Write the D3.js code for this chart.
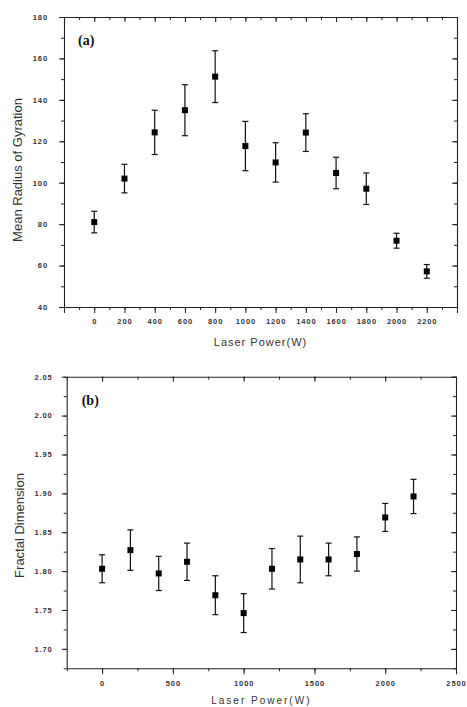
<!DOCTYPE html>
<html>
<head>
<meta charset="utf-8">
<script src="https://cdn.jsdelivr.net/npm/d3@7.9.0/dist/d3.min.js"></script>
<style>
  body { margin: 0; background: #fff; }
  svg { display: block; }
</style>
</head>
<body>
<script>
// ** Data **
const power = [0, 200, 400, 600, 800, 1000, 1200, 1400, 1600, 1800, 2000, 2200];
const radius = [81, 102, 124.3, 135, 151.2, 117.7, 109.8, 124.2, 104.7, 97.1, 72, 57.2];
const radiusErr = [5.2, 6.9, 10.7, 12.3, 12.5, 11.9, 9.5, 9.1, 7.6, 7.6, 3.6, 3.3];
const fractal = [1.803, 1.827, 1.797, 1.812, 1.769, 1.746, 1.803, 1.815, 1.815, 1.822, 1.869, 1.896];
const fractalErr = [0.018, 0.026, 0.022, 0.024, 0.025, 0.025, 0.026, 0.030, 0.021, 0.022, 0.018, 0.022];

// ** Tick labels **
const xTicksA = [0, 200, 400, 600, 800, 1000, 1200, 1400, 1600, 1800, 2000, 2200];
const yTicksA = [40, 60, 80, 100, 120, 140, 160, 180];
const xTicksB = [0, 500, 1000, 1500, 2000, 2500];
const yTicksB = [1.70, 1.75, 1.80, 1.85, 1.90, 1.95, 2.00, 2.05];

const width = 467, height = 707;
const svg = d3.select("body").append("svg")
    .attr("width", width)
    .attr("height", height)
    .style("font-family", "'Liberation Sans', Arial, sans-serif");

function panel(opt) {
    const x = d3.scaleLinear().domain(opt.xDomain).range([opt.left, opt.right]);
    const y = d3.scaleLinear().domain(opt.yDomain).range([opt.bottom, opt.top]);
    const g = svg.append("g");

    const styleAxis = sel => {
        sel.selectAll("path.domain").attr("stroke", "#222").attr("stroke-width", 1.1);
        sel.selectAll(".tick line").attr("stroke", "#222").attr("stroke-width", 1);
        sel.selectAll(".tick text")
            .attr("fill", "#333")
            .style("font-size", "7.5px")
            .style("font-weight", "bold")
            .style("letter-spacing", "0.9px");
    };

    // minor ticks (no labels)
    g.append("g").attr("transform", `translate(0,${opt.bottom})`)
        .call(d3.axisBottom(x).tickValues(opt.xMinor).tickSize(3).tickFormat(""))
        .call(s => s.select(".domain").remove()).call(styleAxis);
    g.append("g").attr("transform", `translate(0,${opt.top})`)
        .call(d3.axisTop(x).tickValues(opt.xMinor).tickSize(-3).tickFormat(""))
        .call(s => s.select(".domain").remove()).call(styleAxis);
    g.append("g").attr("transform", `translate(${opt.left},0)`)
        .call(d3.axisLeft(y).tickValues(opt.yMinor).tickSize(3).tickFormat(""))
        .call(s => s.select(".domain").remove()).call(styleAxis);
    g.append("g").attr("transform", `translate(${opt.right},0)`)
        .call(d3.axisRight(y).tickValues(opt.yMinor).tickSize(-3).tickFormat(""))
        .call(s => s.select(".domain").remove()).call(styleAxis);

    // major ticks, labels only for the listed values
    const xLabel = d => opt.xLabels.includes(d) ? String(d) : "";
    g.append("g").attr("transform", `translate(0,${opt.bottom})`)
        .call(d3.axisBottom(x).tickValues(opt.xMajor).tickSize(6).tickSizeOuter(0).tickPadding(6)
            .tickFormat(xLabel))
        .call(styleAxis);
    g.append("g").attr("transform", `translate(0,${opt.top})`)
        .call(d3.axisTop(x).tickValues(opt.xMajor).tickSize(-5).tickSizeOuter(0).tickFormat(""))
        .call(styleAxis);
    g.append("g").attr("transform", `translate(${opt.left},0)`)
        .call(d3.axisLeft(y).tickValues(opt.yTicks).tickSize(5).tickSizeOuter(0).tickPadding(opt.yPad)
            .tickFormat(opt.yFormat))
        .call(styleAxis);
    g.append("g").attr("transform", `translate(${opt.right},0)`)
        .call(d3.axisRight(y).tickValues(opt.yTicks).tickSize(-5).tickSizeOuter(0).tickFormat(""))
        .call(styleAxis);

    // error bars
    const pts = opt.values.map((v, i) => ({ x: power[i], y: v, e: opt.errors[i] }));
    const eb = g.append("g").attr("stroke", "#111").attr("stroke-width", 1.2);
    eb.selectAll("line.v").data(pts).enter().append("line")
        .attr("x1", d => x(d.x)).attr("x2", d => x(d.x))
        .attr("y1", d => y(d.y + d.e)).attr("y2", d => y(d.y - d.e));
    eb.selectAll("line.t").data(pts).enter().append("line")
        .attr("x1", d => x(d.x) - 3).attr("x2", d => x(d.x) + 3)
        .attr("y1", d => y(d.y + d.e)).attr("y2", d => y(d.y + d.e));
    eb.selectAll("line.b").data(pts).enter().append("line")
        .attr("x1", d => x(d.x) - 3).attr("x2", d => x(d.x) + 3)
        .attr("y1", d => y(d.y - d.e)).attr("y2", d => y(d.y - d.e));

    // square markers
    g.selectAll("rect.pt").data(pts).enter().append("rect")
        .attr("x", d => x(d.x) - 3).attr("y", d => y(d.y) - 3)
        .attr("width", 6).attr("height", 6)
        .attr("fill", "#000");

    // panel letter
    g.append("text")
        .attr("x", opt.left + opt.letterDx).attr("y", opt.top + 28)
        .text(opt.letter)
        .style("font-family", "'Liberation Serif', 'Times New Roman', serif")
        .style("font-weight", "bold")
        .style("font-size", "14px")
        .attr("fill", "#111");

    // axis titles
    g.append("text")
        .attr("x", (opt.left + opt.right) / 2).attr("y", opt.xTitleY)
        .attr("text-anchor", "middle")
        .text("Laser Power(W)")
        .style("font-size", opt.xTitleSize)
        .style("letter-spacing", opt.xTitleSpacing)
        .attr("fill", "#333");
    g.append("text")
        .attr("transform", `translate(${opt.yTitleX},${(opt.top + opt.bottom) / 2 + opt.yTitleDy}) rotate(-90)`)
        .attr("text-anchor", "middle")
        .text(opt.yTitle)
        .style("font-size", "13px")
        .attr("fill", "#333");
}

// ** Panel (a) **
panel({
    left: 64, right: 457, top: 17, bottom: 307,
    xDomain: [-200, 2400], yDomain: [40, 180],
    xMajor: d3.range(-200, 2401, 200), xLabels: xTicksA, yTicks: yTicksA,
    xMinor: d3.range(-200, 2401, 100), yMinor: d3.range(40, 181, 10),
    yFormat: d3.format("d"), yPad: 11,
    values: radius, errors: radiusErr,
    letter: "(a)", letterDx: 14,
    xTitleY: 346, xTitleSize: "11px", xTitleSpacing: "1px",
    yTitle: "Mean Radius of Gyration", yTitleX: 22, yTitleDy: 8
});

// ** Panel (b) **
panel({
    left: 66.7, right: 456, top: 376.7, bottom: 668.3,
    xDomain: [-250, 2500], yDomain: [1.675, 2.05],
    xMajor: xTicksB, xLabels: xTicksB, yTicks: yTicksB,
    xMinor: d3.range(-250, 2501, 250), yMinor: d3.range(1.675, 2.051, 0.025),
    yFormat: d3.format(".2f"), yPad: 9,
    values: fractal, errors: fractalErr,
    letter: "(b)", letterDx: 15,
    xTitleY: 704, xTitleSize: "10px", xTitleSpacing: "2px",
    yTitle: "Fractal Dimension", yTitleX: 24, yTitleDy: 3
});
</script>
</body>
</html>
